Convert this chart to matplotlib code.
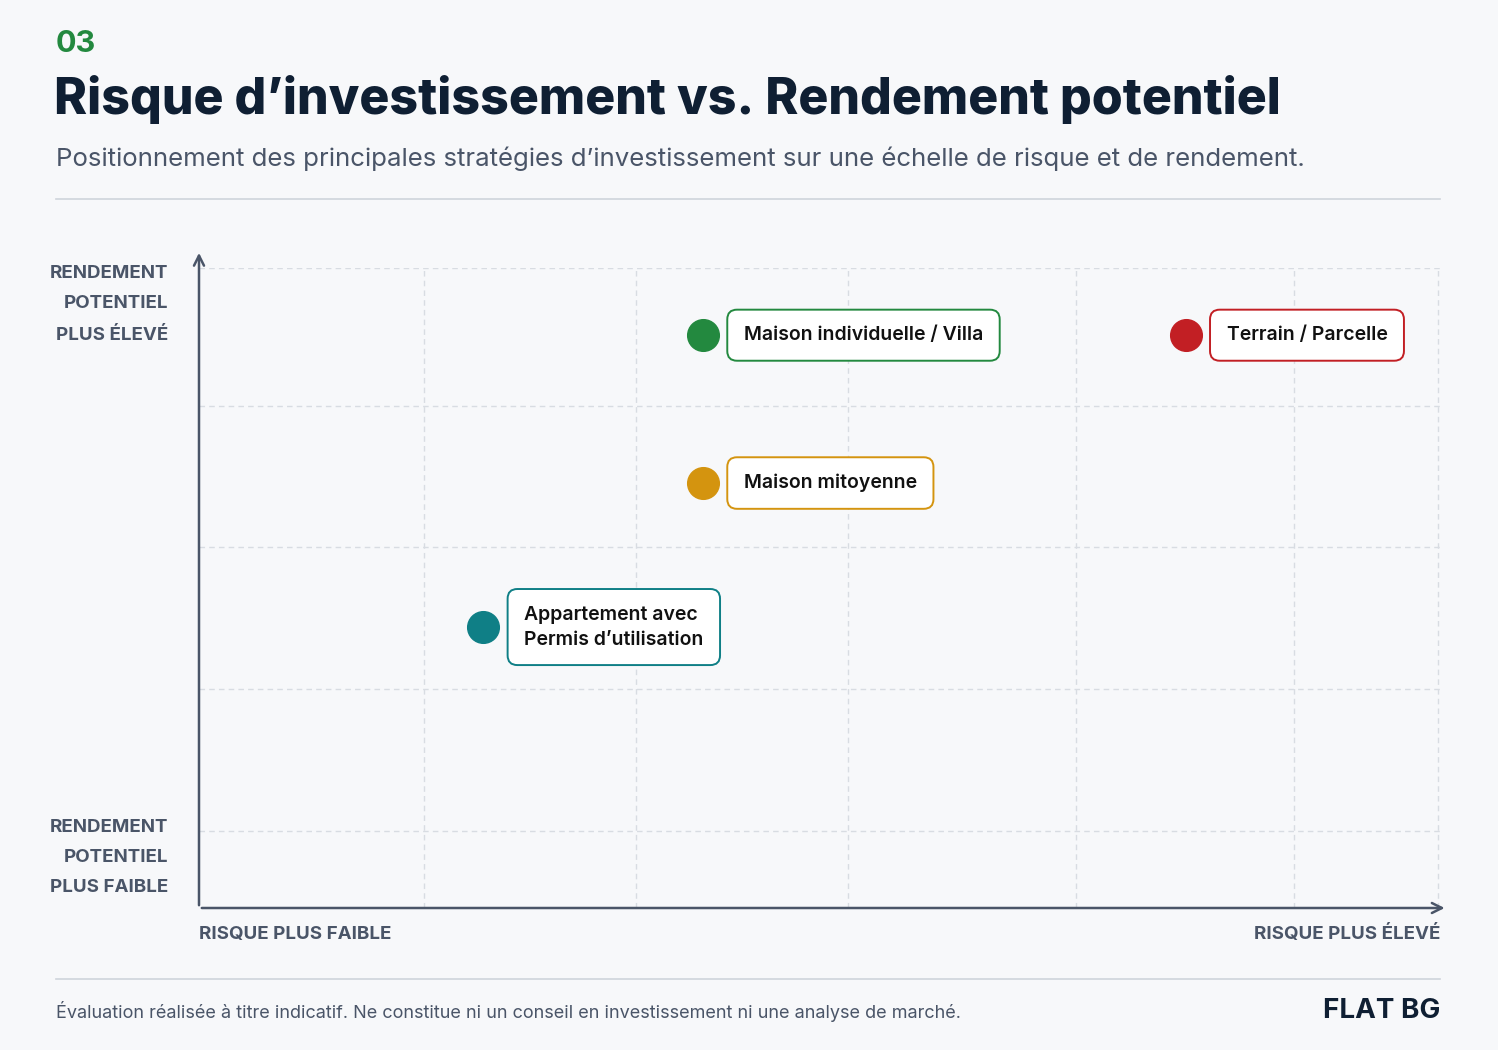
import matplotlib

matplotlib.use("Agg")
import matplotlib.pyplot as plt
from matplotlib.lines import Line2D

BG = "#f7f8fa"
INK = "#0f1f33"
GREY = "#4a5568"

names = ["Appartement avec\nPermis d\u2019utilisation", "Maison individuelle / Villa",
         "Maison mitoyenne", "Terrain / Parcelle"]
risk = [22.9, 40.6, 40.6, 79.5]
ret = [43.9, 89.5, 66.4, 89.5]
colors = ["#0f7f86", "#23893f", "#d4940f", "#c21f24"]
grid_x = [18.1, 35.2, 52.3, 70.7, 88.2, 99.8]
grid_y = [12.0, 34.2, 56.4, 78.4, 100.0]

plt.rcParams["font.family"] = ["Inter", "DejaVu Sans"]
fig = plt.figure(figsize=(14.98, 10.5), dpi=100, facecolor=BG)

W, H = 1498, 1050
def fx(px):
    return px / W
def fy(py):
    return 1 - py / H

fig.text(fx(56), fy(44), "03", color="#23893f", fontsize=22, fontweight="bold", va="center")
fig.text(fx(54), fy(100), "Risque d\u2019investissement vs. Rendement potentiel", color=INK,
         fontsize=36, fontweight="heavy", va="center")
fig.text(fx(56), fy(159), "Positionnement des principales strat\u00e9gies d\u2019investissement sur une \u00e9chelle de risque et de rendement.",
         color=GREY, fontsize=18.6, va="center")
for yy in (199, 979):
    fig.add_artist(Line2D([fx(56), fx(1440)], [fy(yy), fy(yy)], color="#cfd4db", lw=1.2))

ax = fig.add_axes([fx(199), fy(908), fx(1440) - fx(199), fy(268) - fy(908)])
ax.set_facecolor(BG)
ax.set_xlim(0, 100)
ax.set_ylim(0, 100)
for s in ax.spines.values():
    s.set_visible(False)
ax.set_xticks([])
ax.set_yticks([])
for gx in grid_x:
    ax.axvline(gx, color="#d8dce2", lw=1, ls=(0, (4, 3)), zorder=0)
for gy in grid_y:
    ax.axhline(gy, color="#d8dce2", lw=1, ls=(0, (4, 3)), zorder=0)
ax.annotate("", xy=(100.6, 0), xytext=(0, 0), annotation_clip=False,
            arrowprops=dict(arrowstyle="->", color=GREY, lw=1.8, mutation_scale=18))
ax.annotate("", xy=(0, 102.8), xytext=(0, 0), annotation_clip=False,
            arrowprops=dict(arrowstyle="->", color=GREY, lw=1.8, mutation_scale=18))

for n, x, y, c in zip(names, risk, ret, colors):
    ax.scatter([x], [y], s=520, color=c, zorder=3)
    ax.text(x + 3.3, y, n, fontsize=14, fontweight="semibold", color="#111111", va="center",
            linespacing=1.5,
            bbox=dict(boxstyle="round,pad=0.85,rounding_size=0.5", fc="white", ec=c, lw=1.4))

for yy, t in [(274, "RENDEMENT"), (304, "POTENTIEL"), (335, "PLUS \u00c9LEV\u00c9"),
              (828, "RENDEMENT"), (858, "POTENTIEL"), (888, "PLUS FAIBLE")]:
    fig.text(fx(168), fy(yy), t, color=GREY, fontsize=13.5, fontweight="bold", ha="right", va="center")
fig.text(fx(199), fy(934), "RISQUE PLUS FAIBLE", color=GREY, fontsize=13.5, fontweight="bold", va="center")
fig.text(fx(1440), fy(934), "RISQUE PLUS \u00c9LEV\u00c9", color=GREY, fontsize=13.5, fontweight="bold",
         ha="right", va="center")

fig.text(fx(56), fy(1011), "\u00c9valuation r\u00e9alis\u00e9e \u00e0 titre indicatif. Ne constitue ni un conseil en investissement ni une analyse de march\u00e9.",
         color=GREY, fontsize=13, va="center")
fig.text(fx(1440), fy(1011), "FLAT BG", color=INK, fontsize=20, fontweight="bold", ha="right", va="center")

fig.savefig("out.png", dpi=100, facecolor=BG)
